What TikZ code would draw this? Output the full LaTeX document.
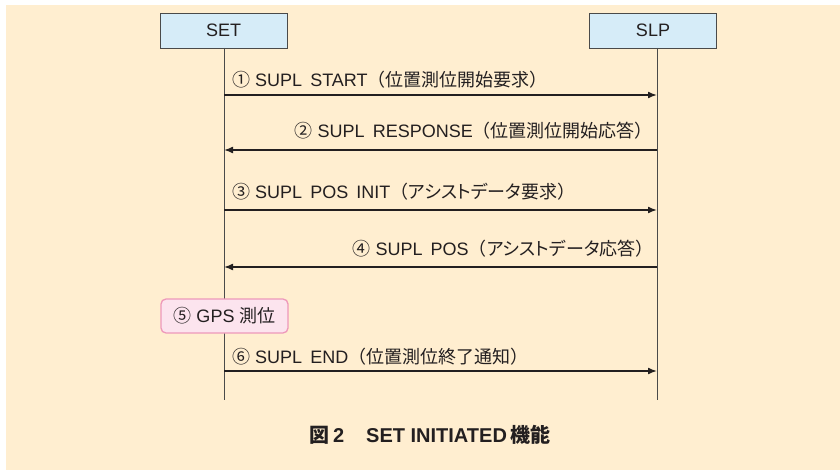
\documentclass[tikz,border=0pt]{standalone}
\usepackage{fontspec}
\setmainfont{Liberation Sans}
\newfontfamily\jp{Noto Sans CJK JP}
\newfontfamily\jpp[RawFeature=+palt]{Noto Sans CJK JP}
\usetikzlibrary{arrows.meta}
\definecolor{bgc}{HTML}{FFEED0}
\definecolor{boxblue}{HTML}{D6ECF8}
\definecolor{boxline}{HTML}{4A4A4A}
\definecolor{pinkfill}{HTML}{FCE4EE}
\definecolor{pinkline}{HTML}{EE98BA}
\definecolor{ink}{HTML}{231F20}
\begin{document}
\begin{tikzpicture}[x=1pt,y=-1pt,
  every node/.style={font=\fontsize{18}{20}\selectfont, text=ink, inner sep=0pt},
  entity/.style={draw=boxline, line width=0.9pt, fill=boxblue, minimum width=127pt, minimum height=35pt},
  lifeline/.style={draw=boxline, line width=0.9pt},
  msg/.style={draw=ink, line width=1.6pt, -{Latex[length=9pt,width=7pt]}},
  msglabel/.style={anchor=base west},
  msglabelr/.style={anchor=base east},
  actbox/.style={draw=pinkline, line width=1.3pt, fill=pinkfill, rounded corners=5pt, minimum width=127pt, minimum height=34pt}
]
\useasboundingbox (0,0) rectangle (840,470);
\fill[bgc] (6,5) rectangle (840,470);

\node[entity] (set) at (223.5,30.5) {SET};
\node[entity] (slp) at (653,30.5) {SLP};
\coordinate (setend) at (224,400);
\coordinate (slpend) at (657,400);
\draw[lifeline] (224,48) -- (setend);
\draw[lifeline] (657,48) -- (slpend);

% message anchors
\foreach \n/\y in {1/95,2/150,3/210,4/267,6/371}{
  \coordinate (s\n) at (224,\y);
  \coordinate (p\n) at (657,\y);
}

\draw[msg] (s1) -- (p1);
\node[msglabel] (l1) at (232,87) {{\jp ①} SUPL\hspace{0.45em}START{\jp （位置測位開始要求）}};

\draw[msg] (p2) -- (s2);
\node[msglabelr] (l2) at (653,138) {{\jp ②} SUPL\hspace{0.45em}RESPONSE{\jp （位置測位開始応答）}};

\draw[msg] (s3) -- (p3);
\node[msglabel] (l3) at (232,199) {{\jp ③} SUPL\hspace{0.45em}POS\hspace{0.45em}INIT{\jp （}{\jpp アシストデータ}{\jp 要求）}};

\draw[msg] (p4) -- (s4);
\node[msglabelr] (l4) at (654,256) {{\jp ④} SUPL\hspace{0.45em}POS{\jp （}{\jpp アシストデータ}{\jp 応答）}};

\node[actbox] (gps) at (224.5,316) {{\jp ⑤} GPS {\jp 測位}};

\draw[msg] (s6) -- (p6);
\node[msglabel] (l6) at (232,363) {{\jp ⑥} SUPL\hspace{0.45em}END{\jp （位置測位終了通知）}};

\node[anchor=base, font=\fontsize{20}{22}\selectfont\bfseries] (cap) at (430,442) {{\jp\bfseries 図}\,2\hspace{1.1em}SET INITIATED\,{\jp\bfseries 機能}};
\end{tikzpicture}
\end{document}
